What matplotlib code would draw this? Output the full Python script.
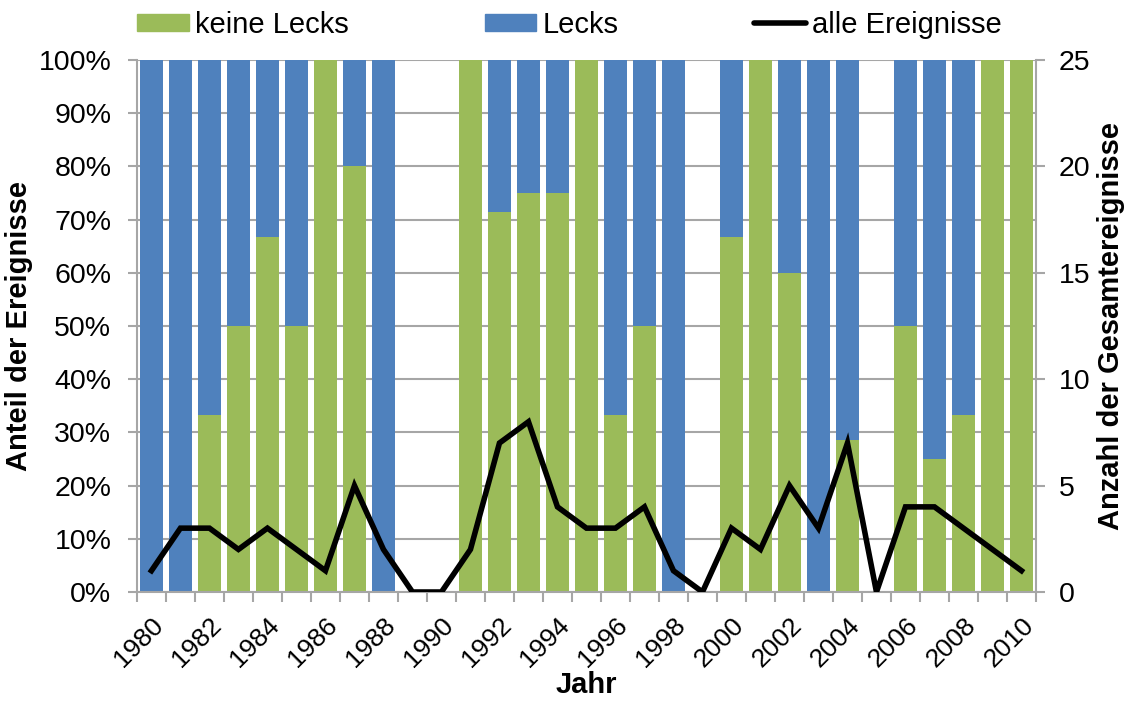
import numpy as np
import matplotlib.pyplot as plt
from matplotlib.patches import Patch
from matplotlib.lines import Line2D

# -----------------------------
# Data: events per year
# -----------------------------
years = list(range(1980, 2011))
keine_lecks = [0, 0, 1, 1, 2, 1, 1, 4, 0, 0, 0, 2, 5, 6, 3, 3,
               1, 2, 0, 0, 2, 2, 3, 0, 2, 0, 2, 1, 1, 2, 1]
lecks = [1, 3, 2, 1, 1, 1, 0, 1, 2, 0, 0, 0, 2, 2, 1, 0,
         2, 2, 1, 0, 1, 0, 2, 3, 5, 0, 2, 3, 2, 0, 0]
alle = [1, 3, 3, 2, 3, 2, 1, 5, 2, 0, 0, 2, 7, 8, 4, 3,
        3, 4, 1, 0, 3, 2, 5, 3, 7, 0, 4, 4, 3, 2, 1]

green = '#9BBB59'
blue = '#4F81BD'
grid_col = '#A6A6A6'

plt.rcParams['font.family'] = ['Liberation Sans', 'DejaVu Sans']
fs = 20.5      # y tick labels
fs_lab = 21    # axis titles
fs_leg = 21    # legend
fs_x = 19      # rotated year labels

k = np.array(keine_lecks, dtype=float)
l = np.array(lecks, dtype=float)
tot = k + l
share_k = np.divide(k, tot, out=np.zeros_like(k), where=tot > 0)
share_l = np.divide(l, tot, out=np.zeros_like(l), where=tot > 0)

x = np.arange(len(years))

fig = plt.figure(figsize=(11.29, 7.03), dpi=100)
ax = fig.add_axes([0.1213, 0.1579, 0.7963, 0.7568])

ax.bar(x, share_k, width=0.79, color=green, zorder=2)
ax.bar(x, share_l, width=0.79, bottom=share_k, color=blue, zorder=2)

ax.set_xlim(-0.5, len(years) - 0.5)
ax.set_ylim(0, 1)
ax.set_yticks(np.arange(0, 1.01, 0.1))
ax.set_yticklabels([f'{int(round(v * 100))}%' for v in np.arange(0, 1.01, 0.1)])
ax.yaxis.grid(True, color=grid_col, linewidth=1.5, zorder=0)
ax.set_axisbelow(True)

# x ticks: labels every 2 years at category centre, tick marks at borders
ax.set_xticks(x[::2])
ax.set_xticklabels([str(y) for y in years[::2]], rotation=45, ha='right',
                   rotation_mode='anchor')
ax.set_xticks(np.arange(-0.5, len(years)), minor=True)
ax.tick_params(axis='x', which='major', length=0, pad=15, labelsize=fs_x)
ax.tick_params(axis='x', which='minor', length=7, width=1.5, color=grid_col)
ax.tick_params(axis='y', length=6.5, width=1.5, color=grid_col, labelsize=fs,
               pad=12)

for s in ['left', 'bottom']:
    ax.spines[s].set_color(grid_col)
    ax.spines[s].set_linewidth(1.5)
ax.spines['top'].set_visible(False)
ax.spines['right'].set_visible(False)

ax.set_xlabel('Jahr', fontsize=fs_lab, fontweight='bold', labelpad=0)
ax.set_ylabel('Anteil der Ereignisse', fontsize=fs_lab, fontweight='bold',
              labelpad=4)

# secondary axis: total number of events
ax2 = ax.twinx()
ax2.plot(x, alle, color='black', linewidth=4, zorder=3,
         solid_joinstyle='miter')
ax2.set_ylim(0, 25)
ax2.set_yticks(range(0, 26, 5))
ax2.tick_params(axis='y', length=6.5, width=1.5, color=grid_col, labelsize=fs,
                pad=10)
ax2.spines['right'].set_color(grid_col)
ax2.spines['right'].set_linewidth(1.5)
for s in ['left', 'top', 'bottom']:
    ax2.spines[s].set_visible(False)
ax2.set_ylabel('Anzahl der Gesamtereignisse', fontsize=fs_lab,
               fontweight='bold', rotation=90, labelpad=5)

handles = [Patch(color=green, label='keine Lecks'),
           Patch(color=blue, label='Lecks'),
           Line2D([], [], color='black', linewidth=4, solid_capstyle='round',
                  label='alle Ereignisse')]
fig.legend(handles=handles, loc='upper left', bbox_to_anchor=(0.0985, 1.022),
           ncol=3, frameon=False, fontsize=fs_leg, handlelength=1.78,
           handleheight=0.55, handletextpad=0.2, columnspacing=4.65)

fig.savefig('out.png', dpi=100)
